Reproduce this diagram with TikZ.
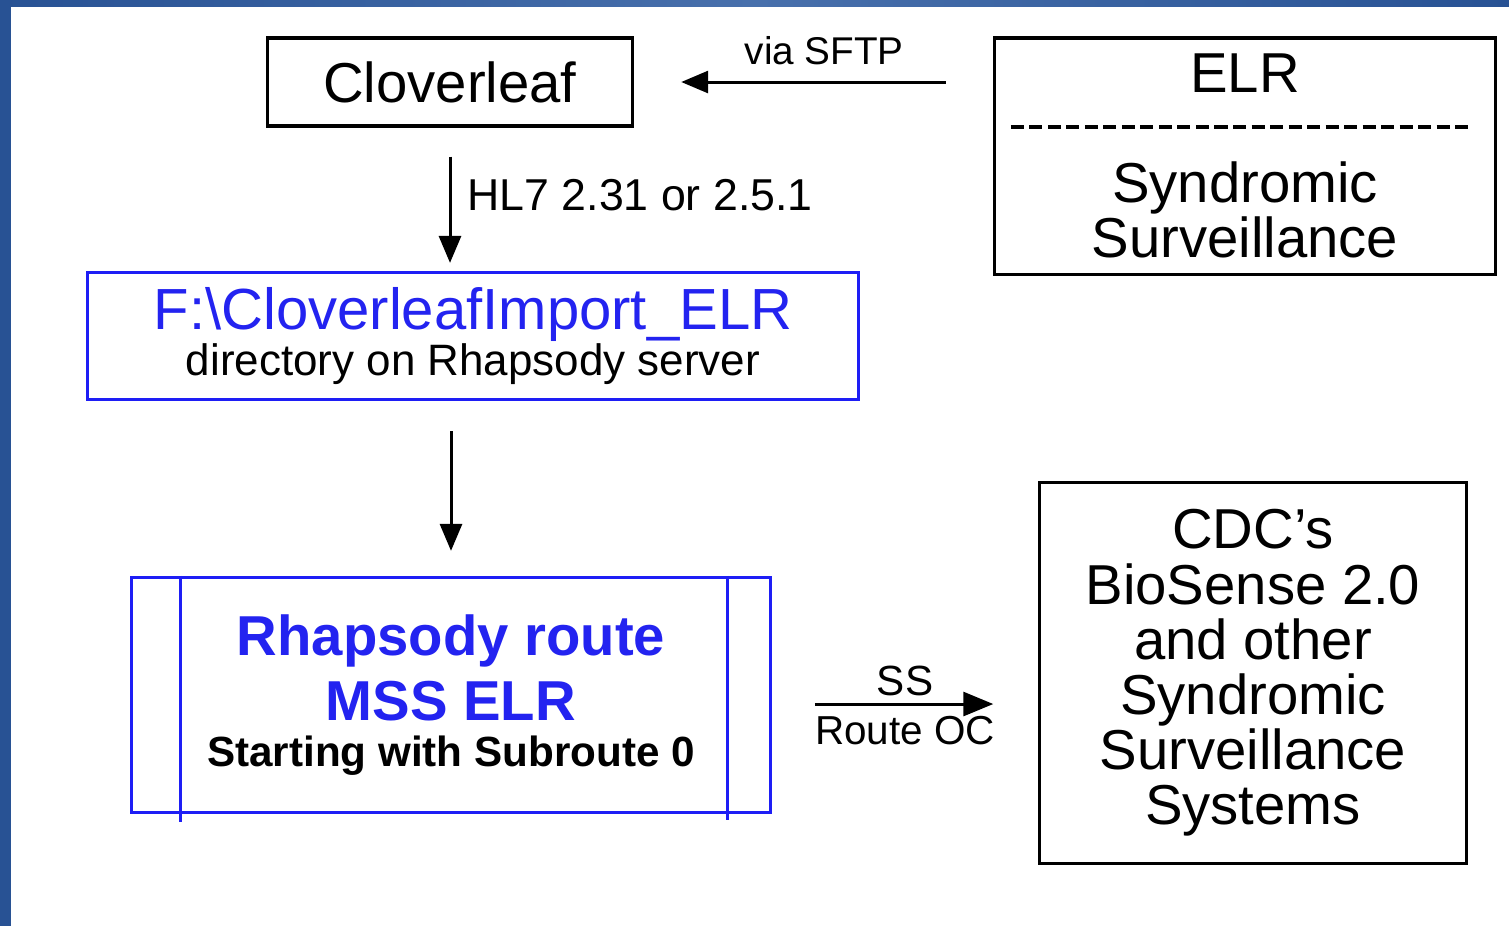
\documentclass[tikz,border=0pt]{standalone}
\usepackage{fontspec}
\setmainfont{Liberation Sans}
\usetikzlibrary{positioning,arrows.meta}
\definecolor{frameblue}{RGB}{40,82,148}
\definecolor{framelight}{RGB}{72,112,172}
\definecolor{boxblue}{RGB}{30,30,245}
\definecolor{textblue}{RGB}{35,35,240}
\begin{document}
\begin{tikzpicture}[x=0.01cm, y=-0.01cm,
  box/.style={draw, line width=0.9pt, inner sep=0pt, align=center, font=\fontsize{16}{15.6}\selectfont},
  bluebox/.style={box, draw=boxblue},
  flow/.style={-{Triangle[length=0.27cm,width=0.22cm]}, line width=0.85pt},
  arrowlabel/.style={inner sep=0pt, font=\fontsize{12}{14}\selectfont}]
\useasboundingbox (0,0) rectangle (1509,926);
\fill[white] (0,0) rectangle (1509,926);
\shade[left color=frameblue, right color=frameblue, middle color=framelight] (0,0) rectangle (1509,6);
\fill[frameblue] (0,0) rectangle (11,926);

\node[box, minimum width=3.65cm, minimum height=0.88cm] (clover) at (450,82) {Cloverleaf};
\node[box, minimum width=5.01cm, minimum height=2.36cm] (elr) at (1245,156) {ELR\\\mbox{}\\Syndromic\\Surveillance};
\node[bluebox, minimum width=7.71cm, minimum height=1.27cm] (fdir) at (473,336)
  {{\color{textblue}\fontsize{16.5}{16}\selectfont F:\textbackslash CloverleafImport\_ELR}\\[-2.6pt]{\fontsize{12.5}{14}\selectfont directory on Rhapsody server}};
\node[bluebox, minimum width=6.38cm, minimum height=2.35cm, text=textblue, font=\bfseries\fontsize{16}{18.5}\selectfont] (rhap) at (451,695)
  {Rhapsody route\\MSS ELR\\[-5.2pt]{\color{black}\fontsize{12}{14}\selectfont Starting with Subroute 0}};
\node[box, minimum width=4.26cm, minimum height=3.80cm, font=\fontsize{16}{15.7}\selectfont] (cdc) at (1253,673)
  {CDC's\\BioSense 2.0\\and other\\Syndromic\\Surveillance\\Systems};

\draw[line width=1.1pt, dash pattern=on 0.13cm off 0.055cm] ([xshift=-2.34cm, yshift=-0.91cm]elr.north) -- ([xshift=2.25cm, yshift=-0.91cm]elr.north);
\draw[boxblue, line width=0.9pt] ([xshift=0.5cm]rhap.north west) -- ([xshift=0.5cm, yshift=-0.08cm]rhap.south west);
\draw[boxblue, line width=0.9pt] ([xshift=-0.44cm]rhap.north east) -- ([xshift=-0.44cm, yshift=-0.06cm]rhap.south east);

\draw[flow, shorten <=0.47cm, shorten >=0.47cm] (elr.west |- clover.east) -- (clover.east)
  node[pos=0.47, above=0.16cm, arrowlabel, font=\fontsize{11}{13}\selectfont] (sftp) {via SFTP};
\draw[flow, shorten <=0.29cm, shorten >=0.08cm] (clover.south) -- (clover.south |- fdir.north)
  node[pos=0.47, right=0.16cm, arrowlabel, font=\fontsize{12.7}{14}\selectfont] (hl7) {HL7 2.31 or 2.5.1};
\draw[flow, shorten <=0.3cm, shorten >=0.25cm] (rhap.north |- fdir.south) -- (rhap.north);
\path ([yshift=-0.09cm]rhap.east) coordinate (ssstart);
\draw[flow, -{Triangle[length=0.3cm,width=0.24cm]}, shorten <=0.43cm, shorten >=0.45cm] (ssstart) -- (ssstart -| cdc.west)
  node[midway, above=0.07cm, arrowlabel] (ss) {SS}
  node[midway, below=0.11cm, arrowlabel, font=\fontsize{11.5}{13}\selectfont] (routeoc) {Route OC};
\end{tikzpicture}
\end{document}
